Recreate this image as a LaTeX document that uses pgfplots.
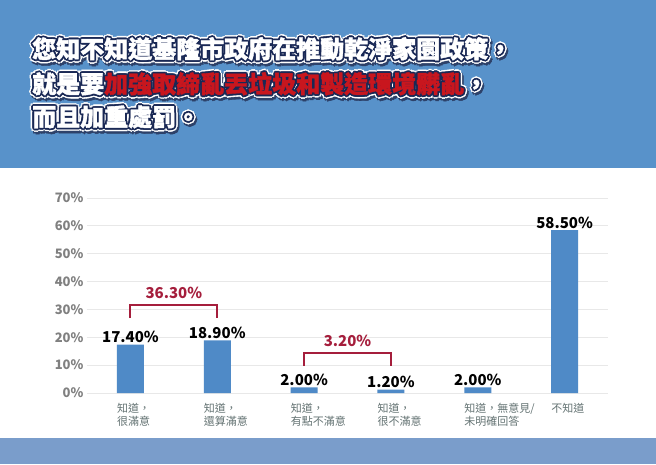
\documentclass[border=0pt]{standalone}
\usepackage{pgfplots}
\pgfplotsset{compat=1.18}
\usepackage{fontspec}
\setmainfont{Noto Sans CJK TC}
\newfontfamily\titlefont{Noto Sans CJK TC}[FakeBold=1.6]

\definecolor{headblue}{RGB}{88,146,202}
\definecolor{footblue}{RGB}{122,157,203}
\definecolor{barblue}{RGB}{79,138,199}
\definecolor{bracketred}{RGB}{165,30,60}
\definecolor{titlered}{RGB}{200,22,30}
\definecolor{navy}{RGB}{25,40,85}
\definecolor{shadowc}{RGB}{45,65,105}
\definecolor{tickgray}{RGB}{128,128,128}
\definecolor{catgray}{RGB}{100,115,115}
\definecolor{gridgray}{RGB}{232,232,232}

\tikzset{tl/.style={anchor=base west, inner sep=0pt, font=\titlefont\bfseries\fontsize{24}{24}\selectfont}}
\newcommand\nohl[1]{#1}
\newcommand\hl[1]{\textcolor{titlered}{#1}}
% title line: dark shadow, white halo, navy outline, then the fill
\newcommand\tline[2]{%
  \foreach \a in {0,45,...,315}{%
    \node[tl, text=shadowc, xshift={1.5pt+3.4pt*cos(\a)}, yshift={-2.5pt+3.4pt*sin(\a)}] at (#1) {\let\hl\nohl #2};
  }%
  \foreach \a in {0,45,...,315}{%
    \node[tl, text=white, xshift={3.4pt*cos(\a)}, yshift={3.4pt*sin(\a)}] at (#1) {\let\hl\nohl #2};
  }%
  \foreach \a in {0,45,...,315}{%
    \node[tl, text=navy, xshift={1.8pt*cos(\a)}, yshift={1.8pt*sin(\a)}] at (#1) {\let\hl\nohl #2};
  }%
  \node[tl, text=white] at (#1) {#2};
}

\begin{document}
\begin{tikzpicture}
\fill[headblue] (0pt,296pt) rectangle (656pt,464pt);
\fill[white] (0pt,26pt) rectangle (656pt,296pt);
\fill[footblue] (0pt,0pt) rectangle (656pt,26pt);

\begin{axis}[
  at={(87pt,71pt)}, anchor=south west,
  scale only axis, width=521pt, height=195pt,
  xmin=-0.5, xmax=5.5, ymin=0, ymax=70,
  ybar, bar width=27pt,
  axis line style={draw=none},
  tick style={draw=none},
  ytick={0,10,...,70},
  yticklabels={0\%,10\%,20\%,30\%,40\%,50\%,60\%,70\%},
  yticklabel style={font=\bfseries\fontsize{13}{13}\selectfont, text=tickgray},
  xtick=data,
  xticklabels={知道，\\很滿意, 知道，\\還算滿意, 知道，\\有點不滿意, 知道，\\很不滿意, 知道，無意見/\\未明確回答, 不知道},
  xticklabel style={anchor=north west, align=left, inner sep=0pt,
    font=\fontsize{11}{13}\selectfont, text=catgray, xshift=-13.5pt, yshift=-6pt},
  ymajorgrids, grid style={gridgray, line width=0.8pt},
  nodes near coords={\pgfmathprintnumber[fixed,fixed zerofill,precision=2,assume math mode=true]{\pgfplotspointmeta}\%},
  every node near coord/.append style={font=\bfseries\fontsize{15}{15}\selectfont, text=black, anchor=south, inner sep=1.5pt},
  clip=false,
]
\addplot[fill=barblue, draw=none] coordinates {
  (0,17.4) (1,18.9) (2,2.0) (3,1.2) (4,2.0) (5,58.5)
};
% brackets joining the satisfied and the dissatisfied answers
\draw[bracketred, line width=2pt] (axis cs:0,26.9) -- (axis cs:0,31.6) -- (axis cs:1,31.6) -- (axis cs:1,26.9);
\node[text=bracketred, font=\bfseries\fontsize{15}{15}\selectfont] at (axis cs:0.5,35.9) {36.30\%};
\draw[bracketred, line width=2pt] (axis cs:2,9.7) -- (axis cs:2,14.4) -- (axis cs:3,14.4) -- (axis cs:3,9.7);
\node[text=bracketred, font=\bfseries\fontsize{15}{15}\selectfont] at (axis cs:2.5,18.7) {3.20\%};
\end{axis}

\tline{32pt,406pt}{您知不知道基隆市政府在推動乾淨家園政策，}
\tline{32pt,371pt}{就是要\hl{加強取締亂丟垃圾和製造環境髒亂}，}
\tline{32pt,338pt}{而且加重處罰。}

\pgfresetboundingbox
\path[use as bounding box] (0pt,0pt) rectangle (656pt,464pt);
\end{tikzpicture}
\end{document}
